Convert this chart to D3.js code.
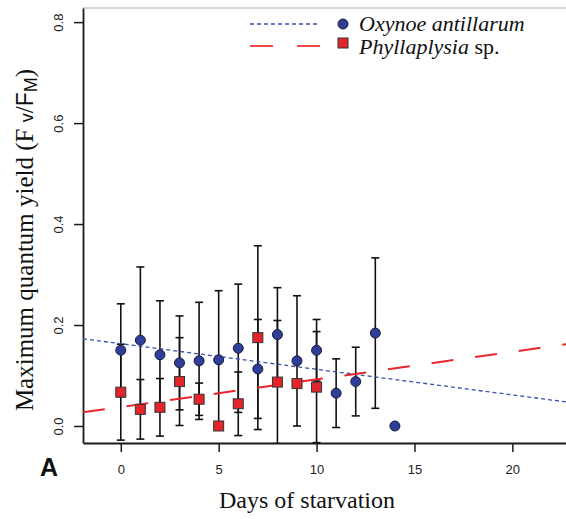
<!DOCTYPE html>
<html>
<head>
<meta charset="utf-8">
<script src="https://cdn.jsdelivr.net/npm/d3@7"></script>
<style>
  body { margin: 0; background: #fff; }
  svg { display: block; }
</style>
</head>
<body>
<div id="chart"></div>
<script>
// values
var oxyDays = [0, 1, 2, 3, 4, 5, 6, 7, 8, 9, 10, 11, 12, 13, 14];
var oxyMean = [0.150, 0.170, 0.141, 0.125, 0.129, 0.131, 0.154, 0.113, 0.181, 0.129, 0.150, 0.065, 0.088, 0.184, 0.000];
var oxySd   = [0.092, 0.145, 0.107, 0.093, 0.116, 0.137, 0.127, 0.098, 0.093, 0.129, 0.061, 0.068, 0.068, 0.149, 0];

var phyDays = [0, 1, 2, 3, 4, 5, 6, 7, 8, 9, 10];
var phyMean = [0.067, 0.033, 0.037, 0.088, 0.053, 0.000, 0.044, 0.175, 0.087, 0.084, 0.077];
var phySd   = [0.095, 0.059, 0.057, 0.087, 0.032, 0, 0.063, 0.182, 0.122, 0.005, 0.110];

// linear fits: [intercept, slope]
var oxyFit = [0.163, -0.00507];
var phyFit = [0.0376, 0.00547];

var xTicks = [0, 5, 10, 15, 20];
var yTicks = [0, 0.2, 0.4, 0.6, 0.8];

var svgWidth = 566, svgHeight = 519;
var plotLeft = 83, plotRight = 566, plotTop = 8, plotBottom = 443;

var blue = "#2f3f99", red = "#e3242b";

var svg = d3.select("#chart").append("svg")
  .attr("width", svgWidth)
  .attr("height", svgHeight);

var x = d3.scaleLinear().domain([-1.93, 22.74]).range([plotLeft, plotRight]);
var y = d3.scaleLinear().domain([-0.0337, 0.828]).range([plotBottom, plotTop]);

svg.append("clipPath").attr("id", "plotclip")
  .append("rect")
  .attr("x", plotLeft).attr("y", plotTop)
  .attr("width", plotRight - plotLeft).attr("height", plotBottom - plotTop);

// top frame line (grey)
svg.append("line")
  .attr("x1", plotLeft).attr("x2", plotRight)
  .attr("y1", plotTop).attr("y2", plotTop)
  .attr("stroke", "#b0b0b0").attr("stroke-width", 1.2);

// axes
var xAxis = svg.append("g")
  .attr("transform", `translate(0, ${plotBottom})`)
  .call(d3.axisBottom(x).tickValues(xTicks).tickSize(9).tickSizeOuter(0).tickPadding(13));
xAxis.select(".domain").attr("stroke", "#1a1a1a").attr("stroke-width", 2.2);
xAxis.selectAll(".tick line").attr("stroke", "#1a1a1a").attr("stroke-width", 1.5);
xAxis.selectAll("text")
  .attr("font-family", "Liberation Sans, Arial, sans-serif")
  .attr("font-size", 13).attr("fill", "#222");

var yAxis = svg.append("g")
  .attr("transform", `translate(${plotLeft}, 0)`)
  .call(d3.axisLeft(y).tickValues(yTicks).tickSize(9).tickSizeOuter(0).tickFormat(d3.format(".1f")));
yAxis.select(".domain").attr("stroke", "#1a1a1a").attr("stroke-width", 1.8);
yAxis.selectAll(".tick line").attr("stroke", "#1a1a1a").attr("stroke-width", 1.5);
yAxis.selectAll("text")
  .attr("x", null).attr("dy", null).attr("y", 0)
  .attr("transform", "translate(-20, 0) rotate(-90)")
  .attr("text-anchor", "middle")
  .attr("font-family", "Liberation Sans, Arial, sans-serif")
  .attr("font-size", 13).attr("fill", "#222");

var plot = svg.append("g").attr("clip-path", "url(#plotclip)");

// error bars
function errorBars(days, mean, sd) {
  var g = plot.append("g");
  days.forEach(function(d, i) {
    if (!sd[i]) return;
    var cx = x(d);
    var yHi = y(mean[i] + sd[i]);
    var yLo = y(mean[i] - sd[i]);
    g.append("line")
      .attr("x1", cx).attr("x2", cx).attr("y1", yHi).attr("y2", yLo)
      .attr("stroke", "#111").attr("stroke-width", 1.6);
    [yHi, yLo].forEach(function(yy) {
      g.append("line")
        .attr("x1", cx - 4).attr("x2", cx + 4).attr("y1", yy).attr("y2", yy)
        .attr("stroke", "#111").attr("stroke-width", 1.6);
    });
  });
}
errorBars(oxyDays, oxyMean, oxySd);
errorBars(phyDays, phyMean, phySd);

// fitted lines
var xDom = x.domain();
function fitLine(fit, color, dash, width) {
  plot.append("line")
    .attr("x1", x(xDom[0])).attr("y1", y(fit[0] + fit[1] * xDom[0]))
    .attr("x2", x(xDom[1])).attr("y2", y(fit[0] + fit[1] * xDom[1]))
    .attr("stroke", color).attr("stroke-width", width)
    .attr("stroke-dasharray", dash);
}
fitLine(oxyFit, "#3c4fae", "4,3", 1.3);
fitLine(phyFit, "#e8262b", "22,22", 2);

// points
plot.selectAll(".oxy")
  .data(oxyDays)
  .enter().append("circle")
  .attr("class", "oxy")
  .attr("cx", d => x(d))
  .attr("cy", (d, i) => y(oxyMean[i]))
  .attr("r", 5)
  .attr("fill", blue)
  .attr("stroke", "#1b1b3a").attr("stroke-width", 1);

plot.selectAll(".phy")
  .data(phyDays)
  .enter().append("rect")
  .attr("class", "phy")
  .attr("x", d => x(d) - 5)
  .attr("y", (d, i) => y(phyMean[i]) - 5)
  .attr("width", 10).attr("height", 10)
  .attr("fill", red)
  .attr("stroke", "#333").attr("stroke-width", 1);

// legend
var serif = "Liberation Serif, Times New Roman, serif";
var legend = svg.append("g");
legend.append("line")
  .attr("x1", 250).attr("x2", 320).attr("y1", 24).attr("y2", 24)
  .attr("stroke", "#3c4fae").attr("stroke-width", 1.3).attr("stroke-dasharray", "4,3");
legend.append("circle")
  .attr("cx", 343).attr("cy", 24).attr("r", 5)
  .attr("fill", blue).attr("stroke", "#1b1b3a");
legend.append("text")
  .attr("x", 359).attr("y", 31)
  .attr("font-family", serif).attr("font-size", 22).attr("font-style", "italic")
  .attr("fill", "#111")
  .text("Oxynoe antillarum");

legend.append("line")
  .attr("x1", 250).attr("x2", 320).attr("y1", 46).attr("y2", 46)
  .attr("stroke", "#ee4a4a").attr("stroke-width", 2).attr("stroke-dasharray", "23,24");
legend.append("rect")
  .attr("x", 338).attr("y", 38).attr("width", 10).attr("height", 10)
  .attr("fill", red).attr("stroke", "#333");
var t2 = legend.append("text")
  .attr("x", 359).attr("y", 54)
  .attr("font-family", serif).attr("font-size", 22).attr("fill", "#111");
t2.append("tspan").attr("font-style", "italic").text("Phyllaplysia");
t2.append("tspan").text(" sp.");

// axis titles
svg.append("text")
  .attr("x", 307).attr("y", 508)
  .attr("text-anchor", "middle")
  .attr("font-family", serif).attr("font-size", 24).attr("fill", "#111")
  .text("Days of starvation");

var yt = svg.append("text")
  .attr("transform", "translate(33, 240) rotate(-90)")
  .attr("text-anchor", "middle")
  .attr("font-family", serif).attr("font-size", 25).attr("fill", "#111");
yt.append("tspan").text("Maximum quantum yield (F ");
yt.append("tspan").attr("font-family", "Liberation Sans, Arial, sans-serif").attr("font-size", 18).text("v");
yt.append("tspan").text("/");
yt.append("tspan").attr("font-family", "Liberation Sans, Arial, sans-serif").attr("font-size", 23).text("F");
yt.append("tspan").attr("font-family", "Liberation Sans, Arial, sans-serif").attr("font-size", 18).attr("dy", 4).text("M");
yt.append("tspan").attr("dy", -4).text(")");

// panel letter
svg.append("text")
  .attr("x", 40).attr("y", 476)
  .attr("font-family", "Liberation Sans, Arial, sans-serif")
  .attr("font-weight", "bold").attr("font-size", 25).attr("fill", "#111")
  .text("A");
</script>
</body>
</html>
